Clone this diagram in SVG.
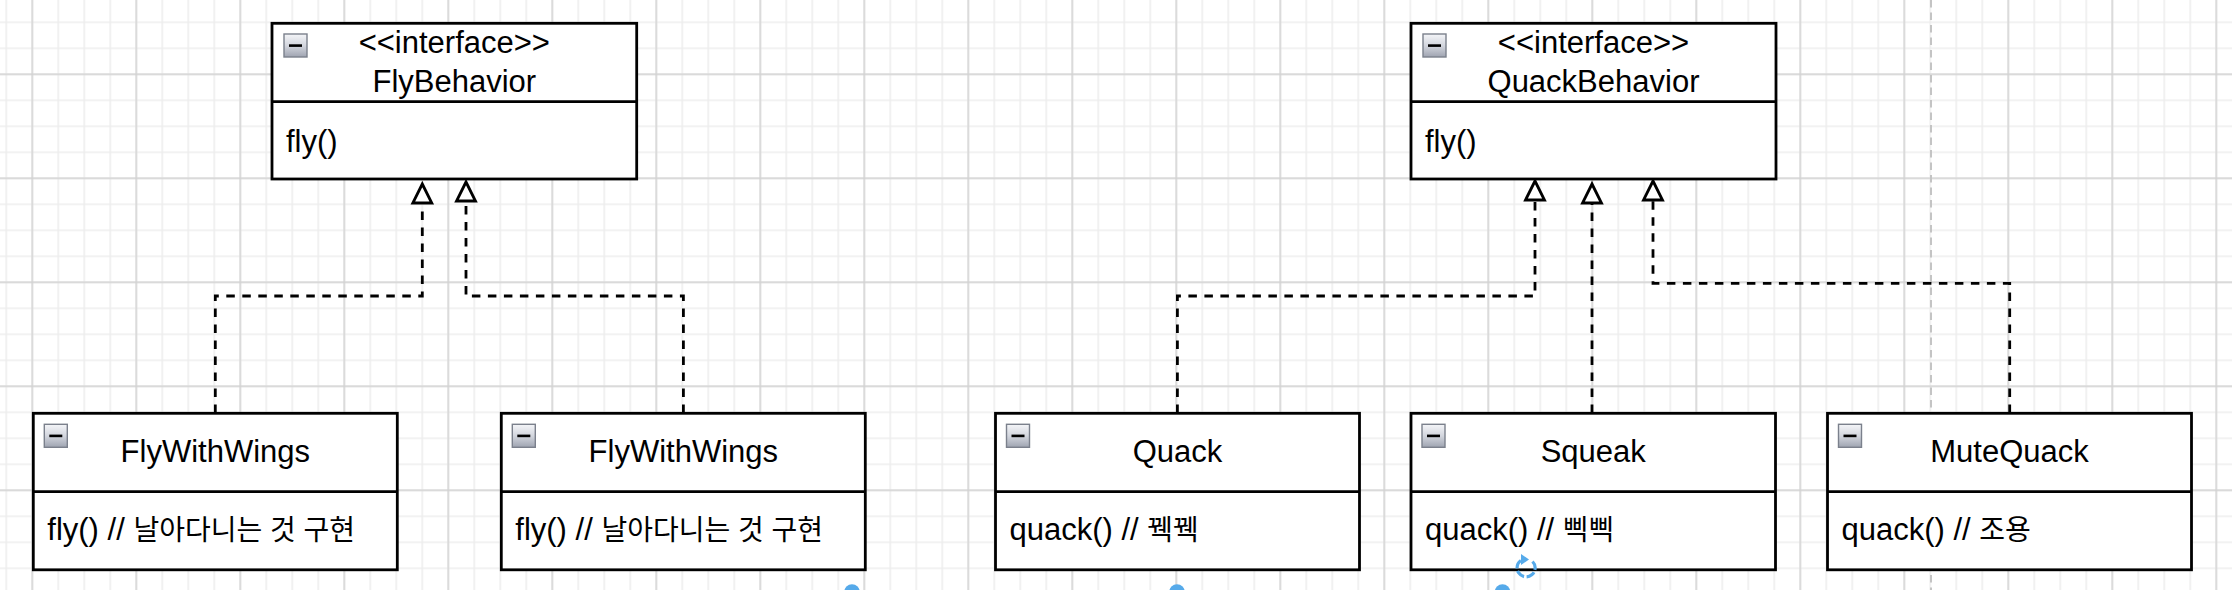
<svg xmlns="http://www.w3.org/2000/svg" width="2232" height="590" viewBox="0 0 2232 590">
<style>
.box{fill:#ffffff;stroke:#000000;stroke-width:2.8}
.div{stroke:#000000;stroke-width:2.8;fill:none}
.t{font-family:"Liberation Sans",Arial,"Noto Sans CJK KR",sans-serif;font-size:31px;fill:#000000}
.k{font-size:28px}
.c{text-anchor:middle}
.icon{fill:url(#ig);stroke:#7b808c;stroke-width:1.4}
.minus{fill:#000000}
.edge{fill:none;stroke:#000000;stroke-width:2.8;stroke-dasharray:8.5 7.5}
.head{fill:#ffffff;stroke:#000000;stroke-width:2.8;stroke-linejoin:miter}
.handle{fill:#56aaea}
</style>
<defs>
<linearGradient id="ig" x1="0" y1="0" x2="0" y2="1">
<stop offset="0" stop-color="#f4f5f8"/>
<stop offset="0.5" stop-color="#d3d6de"/>
<stop offset="1" stop-color="#9fa4b1"/>
</linearGradient>
<pattern id="minor" patternUnits="userSpaceOnUse" x="-6.7" y="9.3" width="26" height="26">
<path d="M13 0V26M0 13H26" stroke="#eeeeee" stroke-width="1.6" fill="none"/>
</pattern>
<pattern id="major" patternUnits="userSpaceOnUse" x="-19.7" y="22.3" width="104" height="104">
<path d="M52 0V104M0 52H104" stroke="#d2d2d2" stroke-width="1.4" fill="none"/>
</pattern>
</defs>
<rect x="0" y="0" width="2232" height="590" fill="#ffffff"/>
<rect x="0" y="0" width="2232" height="590" fill="url(#minor)"/>
<rect x="0" y="0" width="2232" height="590" fill="url(#major)"/>
<line x1="1931" y1="0" x2="1931" y2="590" stroke="#c4c4c4" stroke-width="2" stroke-dasharray="7.5 5"/>

<g id="connectors">
<path class="edge" d="M215.3 413V296H422.3V203"/>
<path class="head" d="M422.3 184L431.8 203H412.8Z"/>
<path class="edge" d="M683.4 413V296H466V201"/>
<path class="head" d="M466 182L475.5 201H456.5Z"/>
<path class="edge" d="M1177.4 413V296H1535V200"/>
<path class="head" d="M1535 181L1544.5 200H1525.5Z"/>
<path class="edge" d="M1592 413V203"/>
<path class="head" d="M1592 184L1601.5 203H1582.5Z"/>
<path class="edge" d="M2009.7 413V283.3H1653V200"/>
<path class="head" d="M1653 181L1662.5 200H1643.5Z"/>
</g>

<g id="FlyBehavior">
<rect class="box" x="272" y="23.3" width="364.7" height="155.7"/>
<line class="div" x1="272" y1="101.7" x2="636.7" y2="101.7"/>
<rect class="icon" x="284" y="34" width="23" height="23"/>
<rect class="minus" x="289" y="44.3" width="13" height="2.6"/>
<text class="t c" x="454.3" y="53.3">&lt;&lt;interface&gt;&gt;</text>
<text class="t c" x="454.3" y="91.7">FlyBehavior</text>
<text class="t" x="286" y="151.7">fly()</text>
</g>

<g id="QuackBehavior">
<rect class="box" x="1411" y="23.3" width="365" height="155.7"/>
<line class="div" x1="1411" y1="101.7" x2="1776" y2="101.7"/>
<rect class="icon" x="1423" y="34" width="23" height="23"/>
<rect class="minus" x="1428" y="44.3" width="13" height="2.6"/>
<text class="t c" x="1593.5" y="53.3">&lt;&lt;interface&gt;&gt;</text>
<text class="t c" x="1593.5" y="91.7">QuackBehavior</text>
<text class="t" x="1425" y="151.7">fly()</text>
</g>

<g id="FlyWithWings1">
<rect class="box" x="33.3" y="413.3" width="364" height="156.5"/>
<line class="div" x1="33.3" y1="491.7" x2="397.3" y2="491.7"/>
<rect class="icon" x="44.3" y="424.3" width="23" height="23"/>
<rect class="minus" x="49.3" y="434.6" width="13" height="2.6"/>
<text class="t c" x="215.3" y="462">FlyWithWings</text>
<text class="t" x="47.3" y="540">fly() // <tspan class="k">날아다니는 것 구현</tspan></text>
</g>

<g id="FlyWithWings2">
<rect class="box" x="501.3" y="413.3" width="364" height="156.5"/>
<line class="div" x1="501.3" y1="491.7" x2="865.3" y2="491.7"/>
<rect class="icon" x="512.3" y="424.3" width="23" height="23"/>
<rect class="minus" x="517.3" y="434.6" width="13" height="2.6"/>
<text class="t c" x="683.3" y="462">FlyWithWings</text>
<text class="t" x="515.3" y="540">fly() // <tspan class="k">날아다니는 것 구현</tspan></text>
</g>

<g id="Quack">
<rect class="box" x="995.5" y="413.3" width="364" height="156.5"/>
<line class="div" x1="995.5" y1="491.7" x2="1359.5" y2="491.7"/>
<rect class="icon" x="1006.5" y="424.3" width="23" height="23"/>
<rect class="minus" x="1011.5" y="434.6" width="13" height="2.6"/>
<text class="t c" x="1177.5" y="462">Quack</text>
<text class="t" x="1009.5" y="540">quack() // <tspan class="k">꿱꿱</tspan></text>
</g>

<g id="Squeak">
<rect class="box" x="1411" y="413.3" width="364.5" height="156.5"/>
<line class="div" x1="1411" y1="491.7" x2="1775.5" y2="491.7"/>
<rect class="icon" x="1422" y="424.3" width="23" height="23"/>
<rect class="minus" x="1427" y="434.6" width="13" height="2.6"/>
<text class="t c" x="1593.2" y="462">Squeak</text>
<text class="t" x="1425" y="540">quack() // <tspan class="k">삑삑</tspan></text>
</g>

<g id="MuteQuack">
<rect class="box" x="1827.5" y="413.3" width="364" height="156.5"/>
<line class="div" x1="1827.5" y1="491.7" x2="2191.5" y2="491.7"/>
<rect class="icon" x="1838.5" y="424.3" width="23" height="23"/>
<rect class="minus" x="1843.5" y="434.6" width="13" height="2.6"/>
<text class="t c" x="2009.5" y="462">MuteQuack</text>
<text class="t" x="1841.5" y="540">quack() // <tspan class="k">조용</tspan></text>
</g>

<g id="selection-handles">
<circle class="handle" cx="852" cy="592" r="7.8"/>
<circle class="handle" cx="1177" cy="592" r="7.8"/>
<circle class="handle" cx="1502.5" cy="592" r="7.8"/>
<path d="M1532.5 561.5A9 9 0 1 1 1522 559.8" fill="none" stroke="#56aaea" stroke-width="3.2" stroke-dasharray="9 2.5"/>
<path d="M1521 554L1529 559.5L1521 565Z" fill="#56aaea"/>
</g>
</svg>
